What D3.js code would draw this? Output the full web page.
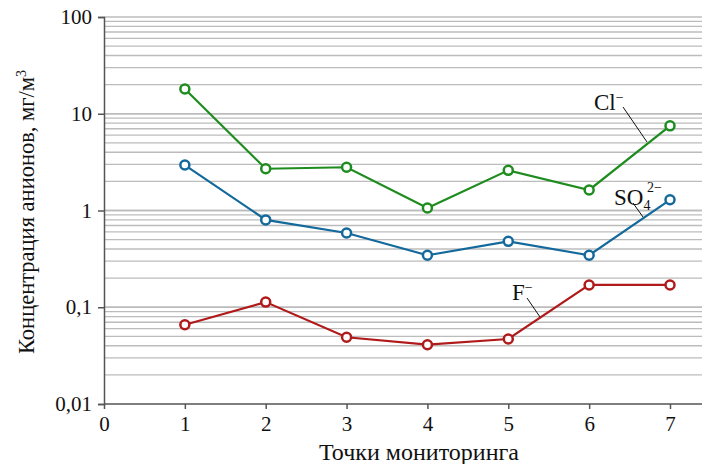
<!DOCTYPE html>
<html>
<head>
<meta charset="utf-8">
<script src="https://cdn.jsdelivr.net/npm/d3@7"></script>
<style>
  body { margin: 0; background: #fff; }
  text { font-family: "Liberation Serif", "Times New Roman", serif; fill: #111; }
</style>
</head>
<body>
<div id="chart"></div>
<script>
// monitoring points
const points = [1, 2, 3, 4, 5, 6, 7];
const xTicks = [0, 1, 2, 3, 4, 5, 6, 7];
const yTicks = [0.01, 0.1, 1, 10, 100];
const yTickLabels = ["0,01", "0,1", "1", "10", "100"];

// anion concentrations, mg/m3
const cl = [18, 2.7, 2.8, 1.06, 2.6, 1.63, 7.5];
const so4 = [2.95, 0.8, 0.585, 0.345, 0.48, 0.345, 1.29];
const f = [0.066, 0.113, 0.049, 0.041, 0.047, 0.17, 0.17];

const W = 702, H = 464;
const margin = { top: 17, right: 0, bottom: 60, left: 104 };

const svg = d3.select('#chart').append('svg')
  .attr('width', W)
  .attr('height', H);

const x = d3.scaleLinear().domain([0, 7]).range([margin.left, 670]);
const y = d3.scaleLog().domain([0.01, 100]).range([H - margin.bottom, margin.top]);

// minor log grid
const grid = [];
[0.01, 0.1, 1, 10].forEach(d => { for (let k = 1; k <= 10; k++) grid.push(d * k); });
svg.append('g')
  .selectAll('line')
  .data(grid.filter(v => v > 0.01))
  .enter()
  .append('line')
  .attr('x1', margin.left)
  .attr('x2', W)
  .attr('y1', d => y(d))
  .attr('y2', d => y(d))
  .attr('stroke', '#bcbcbc')
  .attr('stroke-width', 1.3);

// axes
const yAxis = svg.append('g')
  .attr('transform', `translate(${margin.left},0)`)
  .call(d3.axisLeft(y).tickValues(yTicks).tickFormat((d, i) => yTickLabels[i]).tickSize(6).tickPadding(6));
const xAxis = svg.append('g')
  .attr('transform', `translate(0,${y(0.01)})`)
  .call(d3.axisBottom(x).tickValues(xTicks).tickFormat(d3.format('d')).tickSize(5).tickPadding(7));
xAxis.select('.domain').attr('d', `M${margin.left},0H${W}`);
[xAxis, yAxis].forEach(a => {
  a.selectAll('.domain, line').attr('stroke', '#555').attr('stroke-width', 1.5);
  a.selectAll('text').style('font-size', '21px').attr('fill', '#111');
});

// series
const series = [
  { vals: cl, color: '#1e8c1e' },
  { vals: so4, color: '#14699c' },
  { vals: f, color: '#b01a1a' }
];
const line = d3.line().x((d, i) => x(points[i])).y(d => y(d));
series.forEach(s => {
  svg.append('path')
    .datum(s.vals)
    .attr('d', line)
    .attr('fill', 'none')
    .attr('stroke', s.color)
    .attr('stroke-width', 2.2);
  svg.append('g').selectAll('circle')
    .data(s.vals)
    .enter()
    .append('circle')
    .attr('cx', (d, i) => x(points[i]))
    .attr('cy', d => y(d))
    .attr('r', 4.5)
    .attr('fill', '#fff')
    .attr('stroke', s.color)
    .attr('stroke-width', 2.5);
});

// series labels with leader lines
const leaders = [[623, 107, 647, 142], [633, 203, 643, 217], [527, 298, 540, 317]];
svg.append('g').selectAll('line')
  .data(leaders)
  .enter()
  .append('line')
  .attr('x1', d => d[0]).attr('y1', d => d[1])
  .attr('x2', d => d[2]).attr('y2', d => d[3])
  .attr('stroke', '#111')
  .attr('stroke-width', 1);

const cll = svg.append('text').attr('x', 594).attr('y', 110).style('font-size', '23px');
cll.append('tspan').text('Cl');
cll.append('tspan').attr('dy', -8).style('font-size', '14px').text('−');

const sol = svg.append('text').attr('x', 614).attr('y', 205).style('font-size', '23px');
sol.append('tspan').text('SO');
sol.append('tspan').attr('dy', 5).style('font-size', '14px').text('4');
sol.append('tspan').attr('x', 647).attr('dy', -18).style('font-size', '14px').text('2−');

const fl = svg.append('text').attr('x', 512).attr('y', 300).style('font-size', '23px');
fl.append('tspan').text('F');
fl.append('tspan').attr('dy', -8).style('font-size', '14px').text('−');

// axis titles
svg.append('text')
  .attr('x', 419)
  .attr('y', 460)
  .attr('text-anchor', 'middle')
  .style('font-size', '24px')
  .text('Точки мониторинга');

const yt = svg.append('text')
  .attr('transform', `translate(34,212) rotate(-90)`)
  .attr('text-anchor', 'middle')
  .style('font-size', '22.5px');
yt.append('tspan').text('Концентрация анионов, мг/м');
yt.append('tspan').attr('dy', -8).style('font-size', '14px').text('3');
</script>
</body>
</html>
